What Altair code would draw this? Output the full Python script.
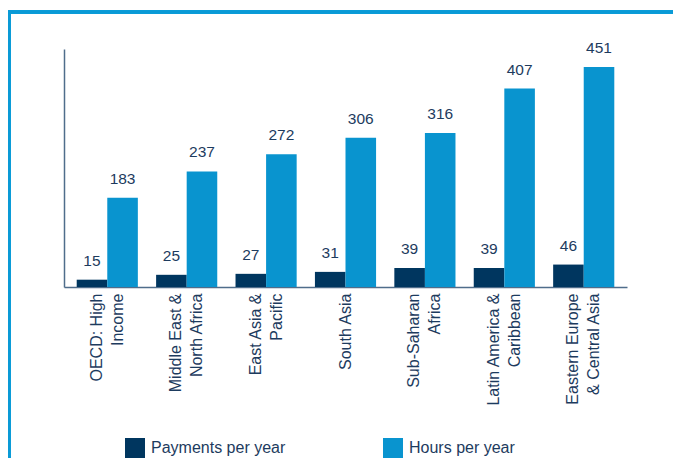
import altair as alt
import pandas as pd

regions = ["OECD: High|Income", "Middle East &|North Africa", "East Asia &|Pacific",
           "South Asia", "Sub-Saharan|Africa", "Latin America &|Caribbean",
           "Eastern Europe|& Central Asia"]
payments = [15, 25, 27, 31, 39, 39, 46]
hours = [183, 237, 272, 306, 316, 407, 451]
series = ["Payments per year", "Hours per year"]
colors = ["#00365f", "#0994cf"]

rows = []
for r, p, h in zip(regions, payments, hours):
    rows.append({"region": r, "series": series[0], "value": p})
    rows.append({"region": r, "series": series[1], "value": h})
df = pd.DataFrame(rows)

navy = "#1d3b5e"
font = "Liberation Sans"

x = alt.X("region:N", sort=regions, title=None,
          scale=alt.Scale(paddingInner=0.23, paddingOuter=0.16),
          axis=alt.Axis(labelAngle=-90, labelAlign="right", labelBaseline="middle",
                        labelExpr="split(datum.label, '|')", labelLineHeight=21,
                        labelOffset={"expr": "test(/[|]/, datum.value) ? -10.5 : 0"},
                        labelFontSize=16, labelColor=navy, labelFont=font,
                        labelPadding=6, ticks=False, domainColor="#4f6d8b",
                        domainWidth=1.5, labelLimit=200))
xo = alt.XOffset("series:N", sort=series)
y = alt.Y("value:Q", title=None, scale=alt.Scale(domain=[0, 488], nice=False),
          axis=alt.Axis(labels=False, ticks=False, grid=False, domainColor="#4f6d8b",
                        domainWidth=1.5))

bars = alt.Chart(df).mark_bar().encode(
    x=x, xOffset=xo, y=y,
    color=alt.Color("series:N", sort=series,
                    scale=alt.Scale(domain=series, range=colors),
                    legend=alt.Legend(title=None, orient="none", direction="horizontal",
                                      legendX=61, legendY=389, symbolType="square",
                                      symbolSize=400, symbolStrokeWidth=0,
                                      labelFontSize=16, labelColor=navy, labelFont=font,
                                      labelOffset=6, columnPadding=97, labelLimit=300))
)

labels = alt.Chart(df).mark_text(baseline="alphabetic", dy=-14, fontSize=15.5,
                                 color=navy, font=font).encode(
    x=alt.X("region:N", sort=regions), xOffset=xo, y="value:Q", text="value:Q"
)

frame_left = alt.Chart(df).mark_rule(color="#0a9ad6", strokeWidth=2.5).encode(
    x=alt.value(-55), y=alt.value(-38), y2=alt.value(420))
frame_top = alt.Chart(df).mark_rule(color="#0a9ad6", strokeWidth=2.5).encode(
    x=alt.value(-56), x2=alt.value(640), y=alt.value(-37))

chart = alt.layer(frame_left, frame_top, bars, labels).properties(
    width=563, height=238,
    padding={"left": 56, "top": 41, "right": 46, "bottom": 171},
    autosize=alt.AutoSizeParams(type="none"),
).configure_view(stroke=None)

chart.save("out.html", embed_options={"renderer": "svg", "actions": False})
